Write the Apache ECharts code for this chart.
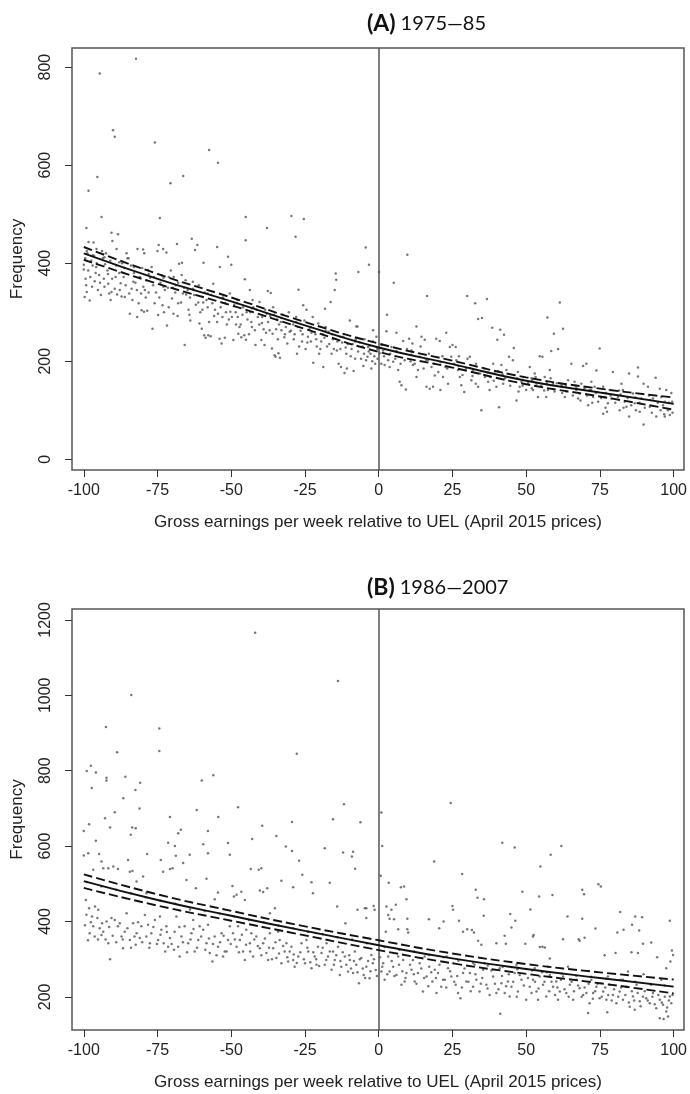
<!DOCTYPE html>
<html><head><meta charset="utf-8">
<script src="https://cdn.jsdelivr.net/npm/echarts@6/dist/echarts.min.js"></script>
<style>html,body{margin:0;padding:0;background:#fff}#c{width:690px;height:1094px}</style>
</head><body><div id="c"></div>
<script>
const xTicks = [-100,-75,-50,-25,0,25,50,75,100];
const yTicksA = [0,200,400,600,800];
const yTicksB = [200,400,600,800,1000,1200];
const xTitle = 'Gross earnings per week relative to UEL (April 2015 prices)';

const fitX = [-100,-75,-50,-25,0,25,50,75,100];
const fitA = [420,368,322,273,228,194,160,136,113];
const upA  = [433,378,330,280,236,201,167,144,126];
const loA  = [407,358,314,266,219,187,153,128,101];
const fitB = [507,457,415,375,337,302,274,250,227];
const upB  = [525,472,428,387,350,315,287,265,246];
const loB  = [489,442,402,363,324,289,261,236,209];

const pointsA = [
[-99.7,331],[-98,324],[-99,341],[-96.3,363],[-100,397],[-100,387],[-99.1,472],[-98.4,548],[-98.4,443],[-96.7,442],[-95.7,429],[-95.4,576],[-99.5,410],[-98.8,420],[-97.5,405],[-97,395],[-96,380],[-99.2,355],[-97.8,372],[-95.2,345],[-95.6,400],[-96.5,415],[-98.5,385],
[-94.6,787],[-94.2,335],[-94.8,376],[-94,494],[-91.4,338],[-90.6,341],[-91.7,358],[-90.4,368],[-90.6,462],[-90.3,445],[-93.5,410],[-92.8,398],[-92,385],[-93,352],[-94.5,360],[-91,405],[-92.5,420],[-93.8,425],
[-90.1,671],[-89.5,658],[-88.4,459],[-88.9,429],[-88.7,336],[-87.2,332],[-86.1,331],[-87.5,359],[-85.5,420],[-85.2,410],[-89,395],[-88,380],[-86.5,372],[-87,400],[-85.8,355],[-89.5,348],
[-82.3,817],[-84.4,297],[-81.9,290],[-83.8,348],[-81.8,429],[-80.6,338],[-80.4,304],[-84,395],[-83,380],[-82.5,360],[-81,372],[-84.8,410],[-80.2,390],[-83.5,325],[-82,345],
[-79.9,428],[-79.5,420],[-79.3,345],[-79.6,301],[-78.5,303],[-78.2,386],[-76.7,266],[-76,318],[-75.9,646],[-75,425],[-77.5,370],[-76.5,355],[-78.8,365],[-77,392],[-75.5,340],[-79,330],
[-74.6,437],[-74.2,492],[-73.1,429],[-72,422],[-74.8,294],[-73.3,314],[-71.8,273],[-71.2,372],[-70.6,563],[-70.1,328],[-74,360],[-72.5,345],[-71.5,350],[-73.5,375],[-70.5,385],[-72.8,300],
[-69.6,297],[-68.2,292],[-67.7,399],[-66.8,376],[-65.8,233],[-65.3,336],[-68.4,439],[-66.7,401],[-66.3,578],[-69,340],[-68.8,355],[-67,320],[-66,350],[-65.5,365],[-69.5,372],
[-63.9,283],[-62.8,345],[-63.4,450],[-61.5,437],[-62.3,427],[-60.8,277],[-60,266],[-64.5,305],[-64,330],[-62,315],[-61,355],[-63,362],[-60.5,300],[-64.8,345],
[-59.2,253],[-58.7,248],[-57.8,253],[-57,251],[-59.4,401],[-57.5,631],[-56.1,358],[-55.8,292],[-59.5,320],[-58,310],[-56.8,335],[-55.5,305],[-59,340],[-57.5,280],
[-54.5,605],[-54.8,433],[-53.9,392],[-54,246],[-53.3,236],[-52.2,248],[-51.1,413],[-50,397],[-50.5,338],[-50.3,301],[-54.5,297],[-53,290],[-52,318],[-51.5,275],[-50.8,285],[-52.8,330],
[-49.3,243],[-47.6,256],[-46.6,249],[-45.6,253],[-45,244],[-45.4,367],[-45.1,494],[-45.1,447],[-48.5,300],[-47.8,290],[-46.8,275],[-49,315],[-48,325],[-46,310],[-47.2,270],
[-43.7,345],[-43,270],[-42,263],[-41.8,233],[-40.4,321],[-44.5,285],[-43.5,300],[-42.5,310],[-41,290],[-40.5,275],[-44,255],[-42.8,325],
[-39.8,243],[-38.7,233],[-37.6,343],[-37.9,472],[-37,263],[-36,256],[-36.6,339],[-36.2,226],[-39.5,290],[-38.5,305],[-37.5,280],[-35.5,295],[-39,265],[-35.8,310],
[-35.3,212],[-35,209],[-34,216],[-33.5,207],[-33,263],[-32,249],[-31,236],[-34.5,285],[-33.8,275],[-32.5,295],[-31.5,270],[-30.5,300],[-34.2,245],[-30.2,260],
[-29.6,496],[-28.2,454],[-25.4,490],[-27.7,215],[-27.2,346],[-25.6,314],[-29,275],[-28.5,255],[-28,290],[-26.5,262],[-26,240],[-27,230],[-25.2,283],
[-24.5,305],[-22.4,290],[-22.2,197],[-20.5,277],[-24,250],[-23.5,265],[-23,240],[-21.5,255],[-21,230],[-20.2,215],[-24.8,225],
[-18.8,188],[-18.2,307],[-16.3,321],[-19.5,240],[-19,255],[-17.5,230],[-17,260],[-16,215],[-15.5,245],[-15.2,225],[-18,270],
[-14.6,379],[-14.4,366],[-14.9,345],[-13.6,195],[-12.8,188],[-11.6,176],[-10.8,185],[-14,240],[-13,225],[-12,250],[-11,215],[-10.5,235],
[-9.8,283],[-7.6,271],[-7.2,271],[-6.9,382],[-8.5,180],[-9.5,210],[-8.8,235],[-7.8,245],[-7,220],[-6,205],[-5.5,230],[-5.2,190],
[-4.4,432],[-3.3,397],[-4.3,202],[-3.8,209],[-3.6,229],[-2.5,185],[-1.9,263],[-4.8,245],[-2.8,215],[-2,240],[-1.2,195],[-0.5,225],[-0.8,250],[-1.5,210],
[-99,425],[-97,416],[-93,412],[-88,402],[-83,392],[-78,378],[-73,370],[-68,360],[-63,348],[-58,338],[-53,329],[-48,318],[-43,308],[-38,297],[-33,288],[-28,280],[-23,270],[-18,262],[-13,250],[-8,240],[-3,232],
[-99.4,368],[-97.2,352],[-95.8,392],[-93.2,368],[-91.8,378],[-90.9,325],[-89.2,372],[-87.8,345],[-86.3,390],[-84.6,338],[-83.2,362],[-81.4,318],[-79.8,352],[-78,340],[-76.2,372],[-74.4,330],[-73,352],[-71.2,310],[-69.8,350],[-68,318],[-66.4,338],[-64.2,295],[-62.6,335],[-61.2,320],[-59.8,305],[-58.4,325],[-56.4,318],[-54.8,280],[-53.6,310],[-51.8,300],[-49.8,290],[-48.4,275],[-46.2,295],[-44.8,300],[-43.2,280],[-41.4,305],[-39.6,278],[-38.2,258],[-36.8,292],[-34.8,265],[-33.2,280],[-31.8,255],[-29.8,262],[-28.8,245],[-27.4,270],[-25.8,255],[-24.2,238],[-22.8,258],[-21.2,245],[-19.8,225],[-18.4,248],[-16.8,235],[-15.8,255],[-14.2,222],[-12.4,238],[-11.2,228],[-9.2,225],[-8,205],[-6.4,238],[-5,215],[-3.4,220],[-2.2,200],[-0.4,205],
[0.1,382],[2.8,295],[2.6,261],[0.9,195],[2,192],[3.2,202],[3.7,188],[4.9,199],[1.5,222],[0.3,216],[4.3,229],
[6,258],[7.1,158],[7.7,151],[9.2,142],[8.3,241],[9.7,417],[5.1,360],[6.6,182],[8.8,202],
[10.3,246],[11.4,236],[12.8,271],[11.6,192],[12.8,168],[13.9,209],[13.3,182],[14.5,250],[11.1,222],
[15.6,244],[16.4,333],[16.2,148],[17.3,144],[18.4,148],[16.7,202],[17.9,188],[19,171],[19.5,246],
[20.7,241],[22.9,258],[20.9,141],[21.8,168],[22.6,188],[24.1,229],[24.6,209],[23.5,154],
[25,233],[26.1,229],[26.9,182],[28,151],[29,137],[27.5,168],[26.3,202],[30,333],
[30.1,205],[30.9,209],[32,182],[32.9,154],[33.7,148],[34.8,100],[32.7,318],[33.7,286],[35,288],[31.4,161],
[36.7,327],[38.5,268],[37.6,141],[38.8,195],[36,168],[37.1,158],[39.9,148],[39.3,175],
[40.2,244],[41.2,264],[42.5,254],[40.8,106],[42.2,154],[43.3,182],[44.2,209],[41.6,192],
[45.8,227],[45.5,202],[46.7,120],[47.8,148],[49,168],[50,141],[47.2,178],[48.4,158],
[51.2,188],[52.3,141],[53.5,154],[54.6,210],[55.5,209],[51.8,165],[54,127],[52.9,175],
[57.2,289],[59.4,256],[58.5,221],[56.3,168],[57.4,141],[59.1,154],[58,182],[56.8,127],
[61.4,320],[62.5,266],[60.8,225],[61.9,148],[63.1,127],[64.2,161],[63.6,138],
[65.3,195],[67,141],[68.1,134],[69.3,190],[70.4,195],[66.4,158],[68.7,154],[67.6,124],
[71.5,141],[73.8,181],[72.7,127],[74.9,226],[71,110],[73.2,148],[74.4,117],[72.1,158],
[76.1,93],[77.4,97],[78.3,141],[79.4,178],[76.6,127],[77.7,114],[78.9,124],[76.1,148],
[81.7,100],[82.8,141],[84.9,175],[84.9,87],[81.1,127],[83.4,117],[82.3,154],[84,107],
[87.9,187],[87.9,169],[89.8,154],[89.8,71],[86.8,114],[88.5,97],[86.2,134],[89,124],
[93.9,166],[94.1,87],[91.9,107],[93,124],[91.3,148],
[95.3,144],[97,87],[97.5,141],[98.7,90],[99.2,135],[96.4,110],[98.1,100],[99.5,117],[95.8,127],
[1,233],[6,221],[11,213],[16,203],[21,198],[27,190],[31,186],[37,177],[42,173],[47,165],[52,161],[57,155],[62,151],[67,145],[72,141],[77,135],[82,132],[87,126],[92,121],[97,117],
[1.8,210],[3.9,215],[5.6,205],[7.4,195],[9.6,225],[10.8,200],[12.2,195],[14.2,230],[15.2,185],[17,215],[18.8,195],[20.2,178],[21.6,210],[23.2,185],[25.6,195],[27.2,210],[28.4,172],[29.6,185],[31.8,170],[33,195],[34.4,175],[35.8,185],[37.8,168],[39,160],[40.4,180],[42.8,165],[44.6,150],[45.9,172],[47.4,138],[48.8,150],[50.6,155],[51.9,145],[53.2,168],[55.1,150],[56.1,140],[58.3,165],[59.6,138],[60.4,155],[62.2,135],[63.4,150],[65.8,130],[66.8,150],[68.4,120],[69.8,145],[70.6,130],[72.4,115],[73.6,135],[75.4,125],[76.9,105],[78.6,130],[80.2,115],[81.5,140],[83,105],[84.4,125],[85.6,110],[87.2,100],[88.4,115],[90.2,105],[91.6,130],[92.6,95],[94.6,115],[95.6,100],[96.8,92],[98.4,115],[99.6,95]
];

const pointsB = [
[-41.9,1166],[-13.8,1038],[-83.9,1001],[-92.5,916],[-74.4,912],[-88.7,849],[-74.4,852],[-27.8,845],[-97.6,813],[-99,799],[-95.9,795],[-97.3,754],[-92.3,781],[-92.3,774],[-85.9,784],[-80.9,768],[-82.5,749],[-86.6,727],[-81.1,700],[-89.5,690],[-92.8,674],[-60,774],[-56.1,788],[-61.7,696],[-47.7,703],[-54.4,677],[-70.8,677],[-11.8,711],[-15.5,671],
[0.9,689],[24.4,714],
[-99.3,457],[-99.1,418],[-98.2,435],[-97.2,413],[-96.8,387],[-96.3,360],[-95.4,409],[-94.6,382],[-94,364],[-93.4,373],[-91.7,342],[-91.1,300],[-90.6,409],[-92.3,400],[-98,369],[-95.1,431],
[-100,640],[-98.2,658],[-100,575],[-98.5,581],[-95.9,614],[-91.1,649],[-94.8,579],[-94,559],[-96.8,537],[-93.4,541],[-91.7,541],[-90,546],[-88.4,539],
[-89.5,404],[-88.4,387],[-87.2,360],[-86.1,373],[-85.5,422],[-84.4,351],[-83.3,395],[-82.1,369],[-81,356],[-80.5,387],[-86.7,329],[-82.4,338],
[-85,563],[-84.1,630],[-83.6,649],[-82.4,647],[-84.4,532],[-83.5,534],[-82.1,506],[-79.9,519],
[-79.3,417],[-78.2,391],[-77.1,369],[-75.9,404],[-74.8,351],[-73.7,378],[-72.9,342],[-72,387],[-70.8,356],[-77.6,342],[-74.2,413],[-71.4,333],
[-78.5,579],[-73.9,563],[-73.1,532],[-70.8,539],[-69.9,541],[-71.4,609],[-78.8,475],
[-69.2,373],[-68,333],[-66.9,360],[-65.8,387],[-64.6,342],[-63.5,369],[-62.4,320],[-61.2,351],[-60.7,387],[-67.5,307],[-62.9,404],[-68.6,413],
[-69.1,600],[-68.8,574],[-68,634],[-67.1,643],[-66.3,555],[-65.2,510],[-64.1,577],[-62,488],
[-59.5,378],[-58.4,342],[-57.3,316],[-56.4,294],[-55.6,360],[-54.5,333],[-53.3,369],[-52.2,320],[-51.1,351],[-50.5,387],[-57.9,391],[-52.8,307],
[-59.5,605],[-57.9,640],[-57.9,581],[-58.4,513],[-55.6,459],[-54.5,477],[-51.1,608],[-50.5,577],
[-49.4,369],[-48.2,333],[-47.1,351],[-46,320],[-44.9,378],[-43.7,342],[-42.6,307],[-41.5,360],[-40.3,329],[-47.7,387],[-43.2,369],[-45.4,298],
[-49.6,494],[-49.1,466],[-48.2,471],[-46.6,479],[-45.4,457],[-43.4,539],[-42.9,619],[-40.7,537],[-40.3,482],
[-39.2,342],[-38.1,316],[-36.9,369],[-35.8,329],[-34.7,303],[-33.6,351],[-33,289],[-31.9,320],[-30.7,294],[-37.5,298],[-34.1,373],[-31.3,342],
[-39.8,541],[-39.5,654],[-39.2,478],[-37.8,488],[-36.9,422],[-35.2,435],[-34.7,627],[-33,508],[-31.5,599],
[-29.6,333],[-28.5,280],[-27.3,307],[-26.2,342],[-25,289],[-23.9,320],[-22.8,276],[-21.7,307],[-20.6,333],[-29,298],[-24.5,351],[-21.1,285],
[-29.4,587],[-29.4,664],[-29,491],[-27,561],[-25.9,524],[-22.8,504],[-22.3,475],
[-19.4,316],[-18.3,285],[-17.2,307],[-16,272],[-14.9,298],[-13.8,333],[-12.7,280],[-11.5,307],[-10.4,267],[-17.7,342],[-13.2,258],[-15.5,320],
[-18.3,594],[-16.6,503],[-14.1,440],[-12.1,583],[-11.3,395],
[-9.8,298],[-8.7,263],[-7.6,285],[-6.7,236],[-5.9,303],[-5.1,258],[-4.2,280],[-3.1,249],[-2,289],[-1,271],[-8.1,320],[-2.5,311],
[-9.1,572],[-8.7,585],[-8,540],[-6.2,663],[-7.2,431],[-4.7,435],[-4.2,435],[-1.7,441],[-1.4,431],[-4.2,409],
[1.2,600],[0.7,521],[18.8,559],[28.3,526],[41.9,609],[46.1,596],[58.3,577],[61.9,600],[54.8,546],[48.7,479],[54.4,466],[58.9,470],[51.4,432],
[3.4,503],[7.5,491],[8.6,493],[9.4,459],[2.6,440],[3.2,417],[4.3,431],[5.8,444],[3.7,407],[5.2,406],[9.7,407],[2.4,373],[6.6,379],[9.7,379],[10,371],
[17,406],[20.5,382],[22,400],[25,441],[25.2,431],[27.2,402],[28.6,373],[30,379],[31.6,377],[32.3,371],[32.9,484],[33.5,463],[35.7,459],[35.6,415],[33.7,349],[34.8,338],
[39.9,342],[43.1,341],[42.7,362],[44.6,420],[45,384],[46.3,402],[52.3,360],[52.5,364],[49.7,341],[54.6,332],[55.5,333],[56.3,331],[58,302],[62.5,353],[64,413],
[67.8,353],[68.1,349],[69.8,357],[69,407],[69,484],[69.6,472],[74.5,499],[75.3,493],[73.5,381],[76.6,310],[80.3,316],[81.9,425],[80.9,371],[83,378],
[85.9,391],[87,413],[89.3,411],[88.3,376],[89.6,341],[92.4,344],[85.7,318],[87.9,316],[94.4,305],[98.7,402],[99.4,323],[99.8,311],[98.9,294],[97.5,276],
[41.2,155],[71,157],[77.5,159],[95.3,143],[96.6,141],[89.8,260],
[0.9,267],[2,245],[3.7,267],[4.9,280],[6,258],[7.7,232],[8.3,298],[9.4,263],[3.2,307],[6.6,307],[1.5,289],[8.8,241],
[11.1,272],[12.2,241],[13.3,263],[15,214],[16.2,254],[17.1,280],[18.2,241],[19,272],[13.9,289],[15.6,307],[19.6,210],[11.6,298],
[20.1,263],[21.2,227],[22.4,245],[23.5,276],[24.6,254],[26.1,232],[26.9,210],[27.7,196],[28.6,263],[29.7,241],[25.2,289],[23,307],
[30.9,263],[32,227],[33.1,245],[34.2,214],[35.4,272],[36.5,232],[37.6,205],[38.8,254],[39.9,210],[35.9,289],[32.5,285],
[41.6,236],[42.7,210],[43.8,241],[45,227],[46.1,263],[47.2,214],[48.4,245],[50,192],[41,276],[46.7,285],[44.4,201],
[51.2,227],[52.3,245],[53.5,214],[54.6,254],[55.7,232],[56.8,201],[58,258],[59.1,227],[52.9,276],[57.4,280],[54,192],
[60.2,241],[61.4,214],[62.5,254],[63.6,210],[64.8,232],[65.9,192],[67,245],[68.1,223],[69.3,205],[64.2,280],[60.8,192],
[71.5,183],[72.7,210],[73.8,227],[74.9,196],[76.1,214],[77.2,192],[78.3,232],[79.4,205],[72.1,245],[77.7,254],[80.6,183],
[81.7,214],[82.8,192],[84,227],[85.1,174],[86.2,201],[87.4,232],[88.5,188],[82.8,245],[86.8,166],[84.5,267],
[90.7,196],[91.9,183],[93,210],[94.1,170],[95.3,192],[96.4,179],[97.5,161],[98.7,201],[99.2,183],[92.4,232],[95.8,245],[98.1,148],
[-99,505],[-94,493],[-89,484],[-84,475],[-79,464],[-74,455],[-69,447],[-64,432],[-59,428],[-54,421],[-49,413],[-44,404],[-39,398],[-34,389],[-29,382],[-24,373],[-19,366],[-14,358],[-9,352],[-4,342],
[2,332],[7,325],[12,320],[17,311],[22,305],[27,296],[32,290],[37,283],[42,279],[47,273],[52,270],[57,265],[62,262],[67,256],[72,253],[77,248],[82,245],[87,240],[92,234],[97,230],
[-99.6,390],[-98.6,350],[-97.6,398],[-96.2,440],[-95.2,352],[-93.8,395],[-92.6,352],[-91.4,385],[-90.2,362],[-89,345],[-87.8,395],[-86.8,352],[-85.2,382],[-84,330],[-82.8,360],[-81.6,398],[-80.2,345],[-78.8,360],[-77.8,330],[-76.4,385],[-75.2,340],[-74,365],[-72.4,320],[-71.8,372],[-70.2,340],[-69.4,325],[-67.6,385],[-66.4,345],[-65,318],[-63.8,352],[-62.8,380],[-61.6,330],[-60.2,360],[-58.8,325],[-57.6,355],[-56.2,340],[-55,310],[-53.8,345],[-52.6,362],[-51.6,320],[-50.2,340],[-48.8,352],[-47.4,318],[-46.4,365],[-45,338],[-43.6,320],[-42.2,352],[-41,335],[-39.8,310],[-38.6,355],[-37.2,330],[-36.2,300],[-35,345],[-33.8,315],[-32.4,335],[-31,305],[-30.2,320],[-28.8,312],[-27.8,290],[-26.6,318],[-25.4,300],[-24.2,330],[-23.2,292],[-22.2,318],[-21.2,300],[-20.2,282],[-19,330],[-17.8,298],[-16.6,320],[-15.2,285],[-14.4,310],[-13,295],[-12.2,318],[-11,285],[-10,310],[-9.4,275],[-8.4,295],[-7.2,265],[-6.4,300],[-5.4,275],[-4.6,250],[-3.6,295],[-2.8,268],[-1.6,300],[-0.6,255],
[0.4,305],[1.2,280],[2.9,260],[4.4,295],[5.3,255],[6.9,285],[8,268],[9.1,250],[10.6,285],[11.9,260],[12.8,235],[14.4,275],[15.4,250],[16.8,228],[17.8,265],[19.4,250],[20.6,285],[21.8,245],[22.9,225],[24.2,268],[25.6,240],[26.6,255],[28.2,225],[29.1,275],[30.4,240],[31.2,215],[32.8,260],[34.6,235],[35.1,250],[36.9,222],[38.2,270],[39.4,235],[40.6,220],[41.8,255],[43.2,228],[44.1,260],[45.6,240],[46.8,200],[47.8,258],[49.2,230],[50.6,250],[51.8,210],[53,240],[54.2,222],[55.4,265],[56.2,240],[57.8,215],[58.6,240],[59.8,205],[60.6,225],[61.8,245],[63,220],[64.4,200],[65.4,240],[66.2,215],[67.6,230],[68.8,200],[69.8,225],[70.4,210],[71.2,235],[72.6,195],[73.4,215],[74.2,235],[75.6,200],[76.8,225],[77.8,205],[79,190],[79.8,220],[81.2,200],[82.2,225],[83.6,205],[84.8,185],[85.8,215],[86.6,190],[87.8,210],[88.8,175],[89.6,200],[90.2,215],[91.2,190],[92.8,200],[93.6,180],[94.8,205],[96,185],[97,200],[97.8,172],[98.4,190],[99.6,205]
];

const pair = (ys) => fitX.map((x, i) => [x, ys[i]]);
const chart = echarts.init(document.getElementById('c'), null, {renderer: 'canvas'});
const FONT = 'Liberation Sans';

function xAxisCfg(g) {
  return {
    type: 'value', gridIndex: g, min: -104, max: 103.5,
    axisLine: {show: false, onZero: false}, splitLine: {show: false},
    axisTick: {show: true, length: 7, customValues: xTicks, lineStyle: {color: '#333', width: 1}},
    axisLabel: {customValues: xTicks, margin: 13, fontFamily: FONT, fontSize: 16, color: '#222', formatter: v => String(v)},
    name: xTitle, nameLocation: 'middle', nameGap: 44,
    nameTextStyle: {fontFamily: FONT, fontSize: 17, color: '#222'}
  };
}
function yAxisCfg(g, min, max, ticks) {
  return {
    type: 'value', gridIndex: g, min: min, max: max,
    axisLine: {show: false, onZero: false}, splitLine: {show: false},
    axisTick: {show: true, length: 7, customValues: ticks, lineStyle: {color: '#333', width: 1}},
    axisLabel: {customValues: ticks, rotate: 90, margin: 18, fontFamily: FONT, fontSize: 16, color: '#222', formatter: v => String(v)},
    name: 'Frequency', nameLocation: 'middle', nameRotate: 90, nameGap: 46,
    nameTextStyle: {fontFamily: FONT, fontSize: 17, color: '#222'}
  };
}
function lineSeries(g, ys, dashed) {
  return {
    type: 'line', xAxisIndex: g, yAxisIndex: g, data: pair(ys), smooth: true,
    showSymbol: false, symbol: 'none', silent: true, z: 5,
    lineStyle: dashed ? {color: '#111', width: 1.9, type: [9, 4]} : {color: '#111', width: 1.9}
  };
}
function scatterSeries(g, pts) {
  return {
    type: 'scatter', xAxisIndex: g, yAxisIndex: g, data: pts, symbol: 'circle', symbolSize: 2.5,
    itemStyle: {color: '#555'}, silent: true, z: 2,
    markLine: {silent: true, symbol: ['none', 'none'], label: {show: false},
      lineStyle: {color: '#555', width: 1.5, type: 'solid'}, data: [{xAxis: 0}]}
  };
}
const titleRich = {
  b: {fontFamily: 'Lato', fontWeight: 'bold', fontSize: 23, color: '#111'},
  n: {fontFamily: 'Lato', fontWeight: 'normal', fontSize: 20, color: '#111'}
};
chart.setOption({
  animation: false,
  backgroundColor: '#fff',
  title: [
    {text: '{b|(A)} {n|1975\u201485}', left: 362, top: 7, textStyle: {fontWeight: 'normal', rich: titleRich}},
    {text: '{b|(B)} {n|1986\u20142007}', left: 362, top: 571, textStyle: {fontWeight: 'normal', rich: titleRich}}
  ],
  grid: [
    {left: 72, right: 6, top: 48, height: 422, show: true, borderColor: '#555', borderWidth: 1.5, backgroundColor: 'transparent'},
    {left: 72, right: 6, top: 609, height: 421, show: true, borderColor: '#555', borderWidth: 1.5, backgroundColor: 'transparent'}
  ],
  xAxis: [xAxisCfg(0), xAxisCfg(1)],
  yAxis: [yAxisCfg(0, -22, 839, yTicksA), yAxisCfg(1, 112, 1229, yTicksB)],
  series: [
    scatterSeries(0, pointsA),
    lineSeries(0, fitA, false), lineSeries(0, upA, true), lineSeries(0, loA, true),
    scatterSeries(1, pointsB),
    lineSeries(1, fitB, false), lineSeries(1, upB, true), lineSeries(1, loB, true)
  ]
});
</script>
</body></html>
